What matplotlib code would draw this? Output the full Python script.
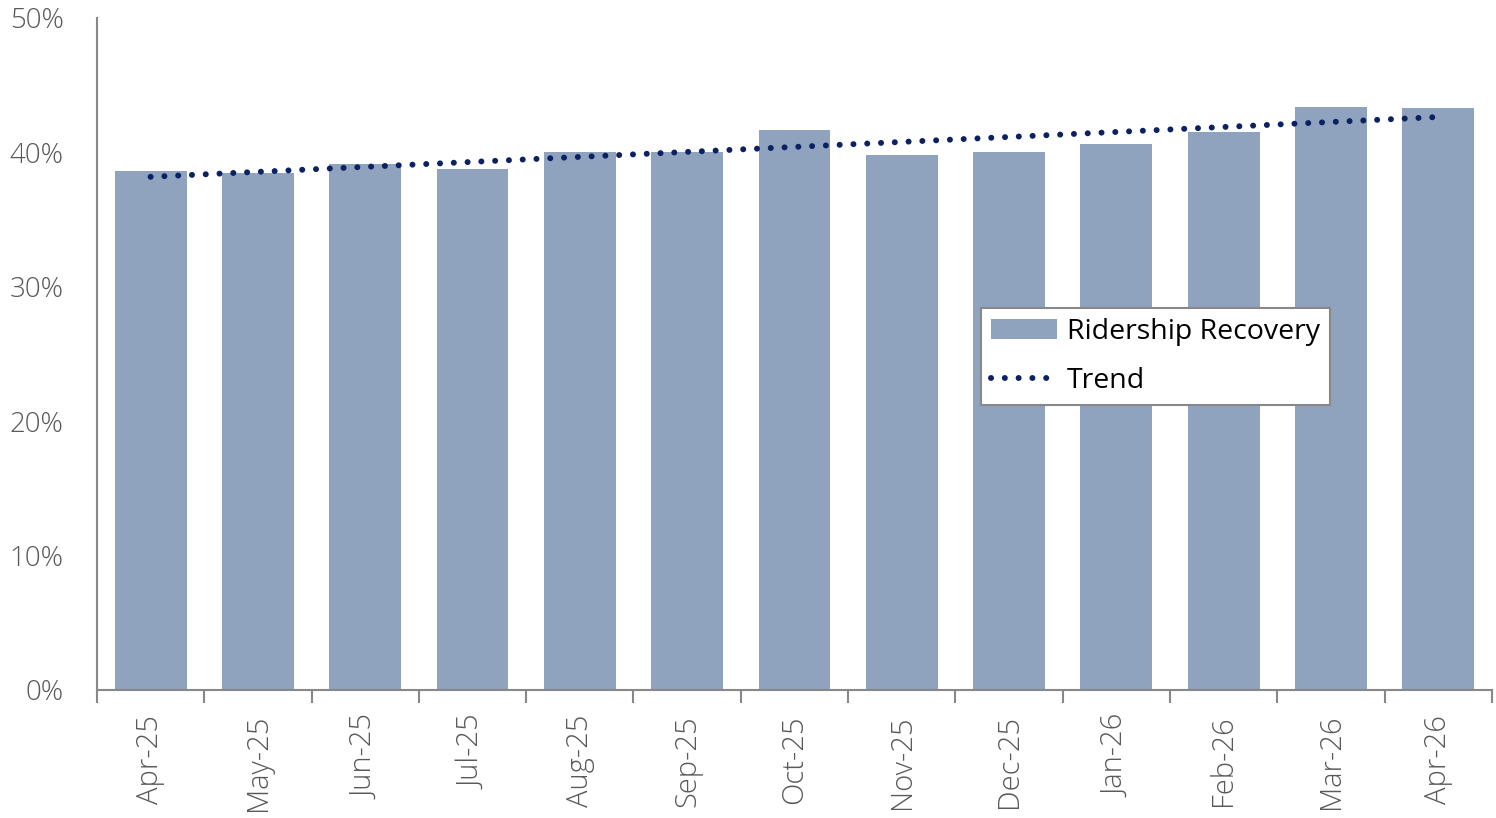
import numpy as np
import matplotlib
matplotlib.use("Agg")
import matplotlib.pyplot as plt

plt.rcParams['font.family'] = ['Open Sans', 'DejaVu Sans']

months = ['Apr-25', 'May-25', 'Jun-25', 'Jul-25', 'Aug-25', 'Sep-25', 'Oct-25',
          'Nov-25', 'Dec-25', 'Jan-26', 'Feb-26', 'Mar-26', 'Apr-26']
recovery = [38.6, 38.5, 39.1, 38.8, 40.0, 40.0, 41.7, 39.8, 40.0, 40.6, 41.5, 43.4, 43.3]

x = np.arange(len(months))
# linear trend fitted to the monthly values
slope, icpt = np.polyfit(x, recovery, 1)
trend = slope * x + icpt

fig = plt.figure(figsize=(14.96, 8.18), dpi=100)
ax = fig.add_axes([0.0648, 0.1565, 0.9325, 0.8215])

bar_col = '#8fa3bf'
bars = ax.bar(x, recovery, width=0.67, color=bar_col, label='Ridership Recovery', zorder=2)
line, = ax.plot(x, trend, color='#0b2161', lw=4.3, linestyle=(0, (0.01, 2.3)),
                dash_capstyle='round', label='Trend', zorder=3)

ax.set_xlim(-0.5, len(months) - 0.5)
ax.set_ylim(0, 50)
ax.set_yticks(np.arange(0, 51, 10))
ax.set_yticklabels([f'{v}%' for v in range(0, 51, 10)])

ax.set_xticks(x)
ax.set_xticklabels(months, rotation=90)
ax.set_xticks(np.arange(-0.5, len(months), 1), minor=True)
ax.tick_params(axis='x', which='major', length=0, pad=18, labelsize=21, labelcolor='#595959')
ax.tick_params(axis='x', which='minor', length=9, width=1.5, color='#888888')
ax.tick_params(axis='y', length=0, pad=24, labelsize=20, labelcolor='#595959')
for lbl in ax.get_xticklabels() + ax.get_yticklabels():
    lbl.set_fontweight('light')

for s in ['top', 'right']:
    ax.spines[s].set_visible(False)
for s in ['left', 'bottom']:
    ax.spines[s].set_color('#888888')
    ax.spines[s].set_linewidth(1.5)

leg = ax.legend([bars, line], ['Ridership Recovery', 'Trend'], loc='upper left',
                bbox_to_anchor=(0.634, 0.569), fontsize=20.5, framealpha=1,
                frameon=True, fancybox=False, handlelength=2.3, borderpad=0.35,
                labelspacing=0.75, handletextpad=0.35, borderaxespad=0)
leg.get_frame().set_edgecolor('#888888')
leg.get_frame().set_linewidth(1.5)

fig.savefig('out.png', dpi=100)
